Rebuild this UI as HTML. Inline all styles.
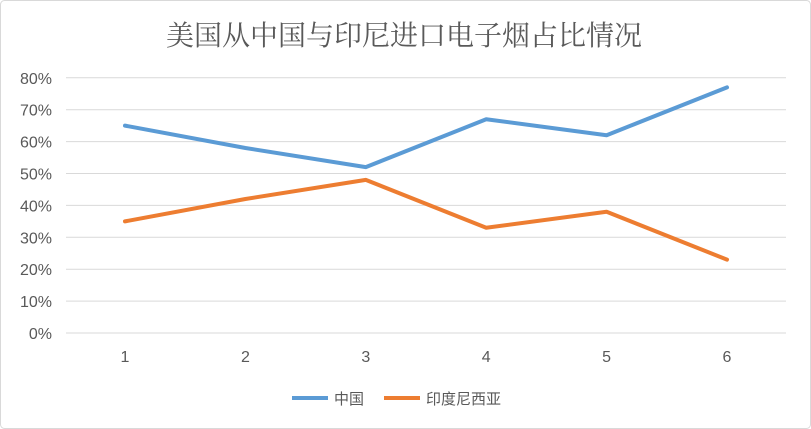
<!DOCTYPE html>
<html><head><meta charset="utf-8"><style>
html,body{margin:0;padding:0;background:#fff;}
svg{display:block;font-family:"Liberation Sans","Noto Sans CJK SC",sans-serif;}
</style></head><body>
<svg width="811" height="429" viewBox="0 0 811 429">
<rect x="0.5" y="0.5" width="810" height="428" rx="4" fill="#fff" stroke="#d9d9d9"/>
<text x="404" y="45" text-anchor="middle" font-size="28" fill="#595959" font-family="Liberation Serif, Noto Serif CJK SC, serif">美国从中国与印尼进口电子烟占比情况</text>
<g id="grid"></g><g id="xt"></g><g id="series"></g>
<g>
<line x1="292" y1="398" x2="328" y2="398" stroke="#5b9bd5" stroke-width="4"/>
<text x="334" y="404" font-size="15" fill="#595959">中国</text>
<line x1="384" y1="398" x2="420" y2="398" stroke="#ed7d31" stroke-width="4"/>
<text x="426" y="404" font-size="15" fill="#595959">印度尼西亚</text>
</g>
</svg>
<script>
const categories=[1,2,3,4,5,6];
const china=[65,58,52,67,62,77];
const indonesia=[35,42,48,33,38,23];
const yTicks=[0,10,20,30,40,50,60,70,80];
const NS="http://www.w3.org/2000/svg";
const y=v=>333-v*3.19;
const x=i=>125+i*120.4;
function mk(t,a,p){const e=document.createElementNS(NS,t);for(const k in a)e.setAttribute(k,a[k]);p.appendChild(e);return e;}
const grid=document.getElementById('grid');
yTicks.forEach(t=>{
  const l=mk('line',{x1:66,x2:786,y1:y(t),y2:y(t),stroke:'#d9d9d9','stroke-width':1},grid);
  
  
  const tx=mk('text',{x:52,y:y(t)+6,'text-anchor':'end','font-size':16,fill:'#595959'},grid);
  tx.textContent=t+'%';
  
  
});
const xt=document.getElementById('xt');
categories.forEach((c,i)=>{
  const tx=mk('text',{x:x(i),y:362,'text-anchor':'middle','font-size':16,fill:'#595959'},xt);
  tx.textContent=c;
  
  
});
const sg=document.getElementById('series');
[[china,'#5b9bd5','line-china'],[indonesia,'#ed7d31','line-indonesia']].forEach(([d,c,n])=>{
  const p=mk('polyline',{points:d.map((v,i)=>x(i)+','+y(v)).join(' '),fill:'none',stroke:c,'stroke-width':4,'stroke-linecap':'round','stroke-linejoin':'round'},sg);
  
  
});
</script>
</body></html>
